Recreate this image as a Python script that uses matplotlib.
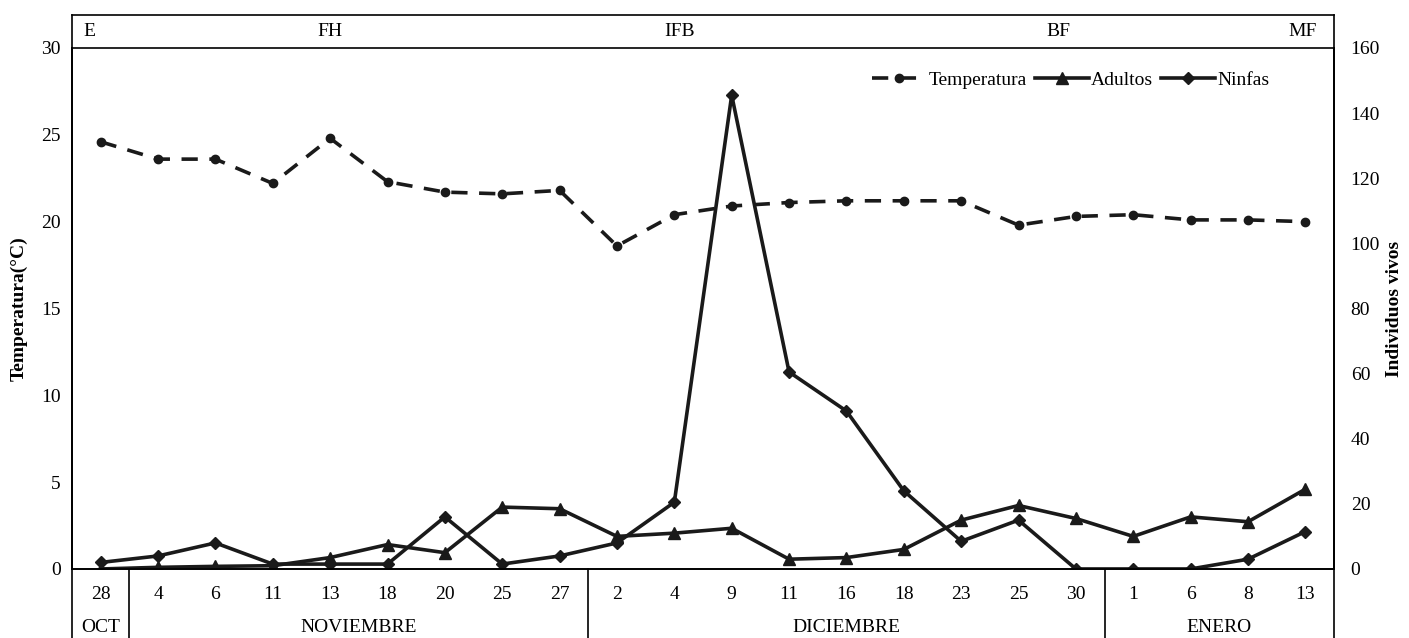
import matplotlib
matplotlib.use("Agg")
from matplotlib import pyplot as plt
from matplotlib import transforms

plt.rcParams['font.family'] = ['Liberation Serif', 'DejaVu Serif']

# day labels and month groups
days = ['28', '4', '6', '11', '13', '18', '20', '25', '27',
        '2', '4', '9', '11', '16', '18', '23', '25', '30',
        '1', '6', '8', '13']
months = ['OCT', 'NOVIEMBRE', 'DICIEMBRE', 'ENERO']
month_sizes = [1, 8, 9, 4]

# phenology labels on top strip (index position)
phases = ['E', 'FH', 'IFB', 'BF', 'MF']
phase_pos = [-0.3, 4.0, 10.1, 16.7, 21.2]

temperatura = [24.6, 23.6, 23.6, 22.2, 24.8, 22.3, 21.7, 21.6, 21.8,
               18.6, 20.4, 20.9, 21.1, 21.2, 21.2, 21.2, 19.8, 20.3,
               20.4, 20.1, 20.1, 20.0]
adultos = [0, 0.5, 0.8, 1, 3.5, 7.5, 5, 19, 18.5,
           10, 11, 12.5, 3, 3.5, 6, 15, 19.5, 15.5,
           10, 16, 14.5, 24.5]
ninfas = [2, 4, 8, 1.5, 1.5, 1.5, 16, 1.5, 4,
          8, 20.5, 145.5, 60.5, 48.5, 24, 8.5, 15, 0,
          0, 0, 3, 11.5]

x = list(range(len(days)))

fig = plt.figure(figsize=(14.09, 6.38), dpi=100)
ax = fig.add_axes([0.0511, 0.1082, 0.8957, 0.8166])
ax2 = ax.twinx()

l1, = ax.plot(x, temperatura, color='#1a1a1a', lw=2.6, ls=(0, (4.5, 3.2)),
              marker='o', ms=6, label='Temperatura')
l2, = ax2.plot(x, adultos, color='#1a1a1a', lw=2.6, marker='^', ms=8,
               label='Adultos')
l3, = ax2.plot(x, ninfas, color='#1a1a1a', lw=2.6, marker='D', ms=6,
               label='Ninfas')

ax.set_xlim(-0.5, len(days) - 0.5)
ax.set_ylim(0, 30)
ax.set_yticks(range(0, 31, 5))
ax2.set_ylim(0, 160)
ax2.set_yticks(range(0, 161, 20))

ax.set_xticks(x)
ax.set_xticklabels(days, fontsize=14)
ax.tick_params(axis='x', length=0, pad=12)
ax.tick_params(axis='y', length=0, pad=8, labelsize=14)
ax2.tick_params(axis='y', length=0, pad=12, labelsize=14)

for a in (ax, ax2):
    a.spines['top'].set_visible(False)
    for s in a.spines.values():
        s.set_linewidth(1.2)

ax.set_ylabel('Temperatura(°C)', fontsize=14, fontweight='bold', labelpad=10)
ax2.set_ylabel('Individuos vivos', fontsize=14, fontweight='bold', labelpad=4)

# frame pieces: top strip and bottom table
bot = -0.1324
top = 1.0633
tr = transforms.blended_transform_factory(ax.transData, ax.transAxes)
ax.plot([0, 1], [top, top], transform=ax.transAxes, color='k', lw=1.2, clip_on=False)
ax.plot([0, 1], [1, 1], transform=ax.transAxes, color='k', lw=1.2, clip_on=False)
ax.plot([0, 0], [bot, top], transform=ax.transAxes, color='k', lw=1.2, clip_on=False)
ax.plot([1, 1], [bot, top], transform=ax.transAxes, color='k', lw=1.2, clip_on=False)

start = 0
for name, n in zip(months, month_sizes):
    end = start + n
    ax.text((start + end - 1) / 2, -0.113, name, transform=tr, ha='center',
            va='center', fontsize=14)
    if end < len(days):
        ax.plot([end - 0.5, end - 0.5], [bot, 0], transform=tr, color='k',
                lw=1.2, clip_on=False)
    start = end

for lab, p in zip(phases, phase_pos):
    ha = 'left' if lab == 'E' else ('right' if lab == 'MF' else 'center')
    ax.text(p, 1.032, lab, transform=tr, ha=ha, va='center', fontsize=14)

ax.legend(handles=[l1, l2, l3], loc='center right', bbox_to_anchor=(0.955, 0.938),
          ncol=3, frameon=False, fontsize=14, handlelength=2.8,
          handletextpad=0.1, columnspacing=0.4, borderaxespad=0)

plt.savefig('out.png', dpi=100)
